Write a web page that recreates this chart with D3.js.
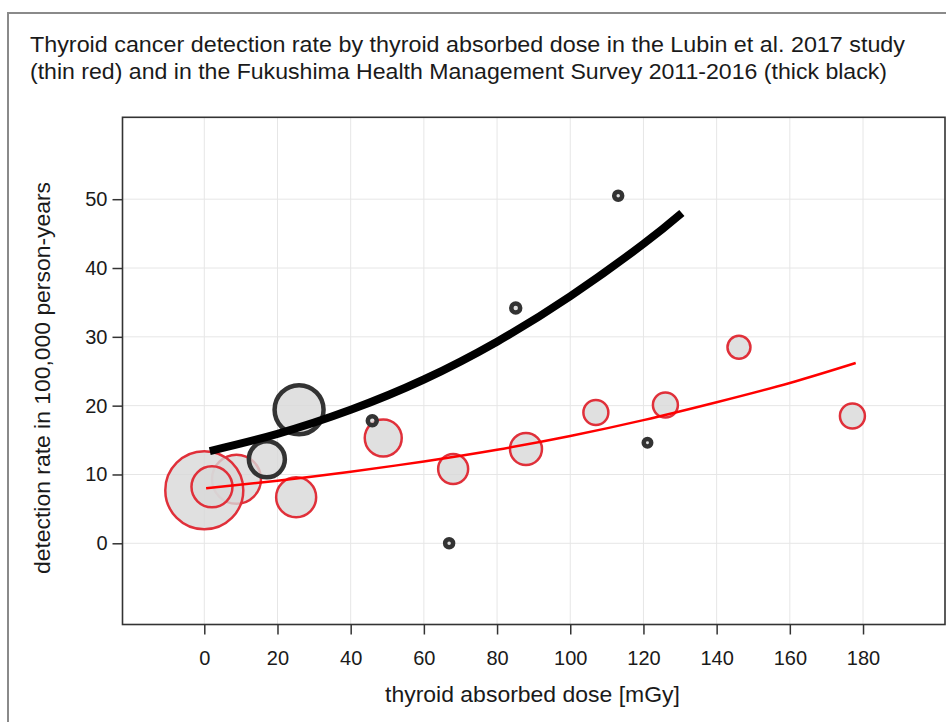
<!DOCTYPE html>
<html>
<head>
<meta charset="utf-8">
<script src="https://cdn.jsdelivr.net/npm/d3@7"></script>
<style>
  html, body { margin: 0; padding: 0; background: #fff; }
  svg { display: block; }
  text { font-family: "Liberation Sans", Arial, sans-serif; fill: #1a1a1a; }
</style>
</head>
<body>
<svg id="chart" width="946" height="722"></svg>
<script>
// ---------- data ----------
const titleLines = [
  "Thyroid cancer detection rate by thyroid absorbed dose in the Lubin et al. 2017 study",
  "(thin red) and in the Fukushima Health Management Survey 2011-2016 (thick black)"
];
const xLabel = "thyroid absorbed dose [mGy]";
const yLabel = "detection rate in 100,000 person-years";

const xTicks = [0, 20, 40, 60, 80, 100, 120, 140, 160, 180];
const yTicks = [0, 10, 20, 30, 40, 50];

// Lubin et al. 2017 groups: dose, rate, relative weight (bubble area)
const lubinDose   = [8.8, 0.0, 2.1, 25.1, 48.9, 68.0, 87.9, 107.0, 126.0, 146.1, 177.1];
const lubinRate   = [9.3, 7.7, 8.2, 6.7, 15.3, 10.8, 13.7, 19.0, 20.1, 28.5, 18.5];
const lubinWeight = [600, 1521, 420, 400, 342, 225, 256, 156, 156, 132, 156];

// Fukushima Health Management Survey groups
const fhmsDose   = [17.1, 25.9, 45.9, 66.9, 85.1, 113.1, 121.1];
const fhmsRate   = [12.2, 19.4, 17.8, 0.0, 34.2, 50.5, 14.6];
const fhmsWeight = [324, 600, 20, 16, 20, 16, 14];

// fitted curves
const lubinFitDose = [0.5, 20, 40, 60, 80, 100, 120, 140, 160, 178];
const lubinFitRate = [8.0, 9.1, 10.4, 11.9, 13.6, 15.6, 17.9, 20.5, 23.3, 26.2];
const fhmsFitDose  = [1.5, 20, 40, 60, 80, 100, 120, 130.5];
const fhmsFitRate  = [13.4, 15.9, 19.4, 23.8, 29.3, 35.9, 43.5, 48.0];

// ---------- chart ----------
const svg = d3.select("#chart");
const W = 946, H = 722;
const plot = { left: 122.5, right: 945, top: 117.3, bottom: 624.5 };

const x = d3.scaleLinear().domain([-22.35, 202.4]).range([plot.left, plot.right]);
const y = d3.scaleLinear().domain([-11.8, 61.9]).range([plot.bottom, plot.top]);
const r = d3.scaleSqrt().domain([0, 1600]).range([0, 40]);

// outer frame
svg.append("rect")
  .attr("x", 8).attr("y", 13)
  .attr("width", W + 20).attr("height", H + 20)
  .attr("fill", "none").attr("stroke", "#8a8a8a").attr("stroke-width", 2);

// title
const titleWidths = [875, 857];
svg.selectAll("text.title").data(titleLines).join("text")
  .attr("class", "title")
  .attr("x", 30)
  .attr("y", (d, i) => 52 + i * 27)
  .attr("font-size", 22.5)
  .attr("textLength", (d, i) => titleWidths[i])
  .attr("lengthAdjust", "spacingAndGlyphs")
  .text(d => d);

// grid
const g = svg.append("g");
g.selectAll("line.vg").data(xTicks).join("line")
  .attr("x1", d => x(d)).attr("x2", d => x(d))
  .attr("y1", plot.top).attr("y2", plot.bottom)
  .attr("stroke", "#e6e6e6").attr("stroke-width", 1);
g.selectAll("line.hg").data(yTicks).join("line")
  .attr("x1", plot.left).attr("x2", plot.right)
  .attr("y1", d => y(d)).attr("y2", d => y(d))
  .attr("stroke", "#e6e6e6").attr("stroke-width", 1);

// axes
const xAxis = svg.append("g")
  .attr("transform", `translate(0,${plot.bottom})`)
  .call(d3.axisBottom(x).tickValues(xTicks).tickSize(10).tickPadding(16).tickFormat(d3.format("d")));
const yAxis = svg.append("g")
  .attr("transform", `translate(${plot.left},0)`)
  .call(d3.axisLeft(y).tickValues(yTicks).tickSize(10).tickPadding(5).tickFormat(d3.format("d")));
[xAxis, yAxis].forEach(a => {
  a.select(".domain").remove();
  a.selectAll(".tick line").attr("stroke", "#333").attr("stroke-width", 1.5);
  a.selectAll(".tick text")
    .attr("font-family", '"Liberation Sans", Arial, sans-serif')
    .attr("font-size", 20).attr("fill", "#222");
});

// plot border
svg.append("rect")
  .attr("x", plot.left).attr("y", plot.top)
  .attr("width", plot.right - plot.left).attr("height", plot.bottom - plot.top)
  .attr("fill", "none").attr("stroke", "#333").attr("stroke-width", 1.6);

// axis labels
svg.append("text")
  .attr("x", 385).attr("y", 702)
  .attr("font-size", 22)
  .attr("textLength", 295).attr("lengthAdjust", "spacingAndGlyphs")
  .text(xLabel);
svg.append("text")
  .attr("transform", `translate(50,574) rotate(-90)`)
  .attr("font-size", 22)
  .attr("textLength", 392).attr("lengthAdjust", "spacingAndGlyphs")
  .text(yLabel);

// bubbles
const lubin = lubinDose.map((d, i) => ({ x: d, y: lubinRate[i], w: lubinWeight[i] }));
const fhms = fhmsDose.map((d, i) => ({ x: d, y: fhmsRate[i], w: fhmsWeight[i] }));

svg.append("g").selectAll("circle").data(lubin).join("circle")
  .attr("cx", d => x(d.x)).attr("cy", d => y(d.y)).attr("r", d => r(d.w))
  .attr("fill", "#d8d8d8").attr("fill-opacity", 0.8)
  .attr("stroke", "#e0303a").attr("stroke-width", 2.5);

svg.append("g").selectAll("circle").data(fhms).join("circle")
  .attr("cx", d => x(d.x)).attr("cy", d => y(d.y)).attr("r", d => r(d.w))
  .attr("fill", "#d8d8d8").attr("fill-opacity", 0.8)
  .attr("stroke", "#333").attr("stroke-width", 4.5);

// fitted curves
const line = d3.line().x(d => x(d[0])).y(d => y(d[1])).curve(d3.curveNatural);
svg.append("path")
  .datum(lubinFitDose.map((d, i) => [d, lubinFitRate[i]]))
  .attr("d", line).attr("fill", "none")
  .attr("stroke", "#ff0000").attr("stroke-width", 2.5);
svg.append("path")
  .datum(fhmsFitDose.map((d, i) => [d, fhmsFitRate[i]]))
  .attr("d", line).attr("fill", "none")
  .attr("stroke", "#000").attr("stroke-width", 8);
</script>
</body>
</html>
